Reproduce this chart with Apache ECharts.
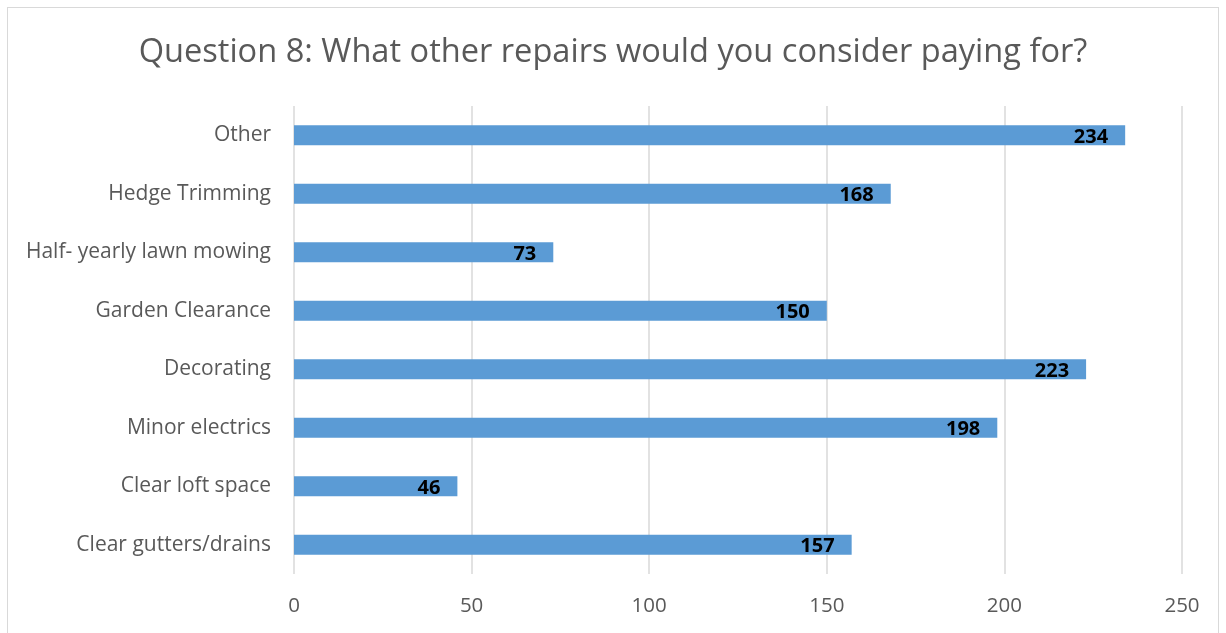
<!DOCTYPE html>
<html>
<head>
<meta charset="utf-8">
<script src="https://cdn.jsdelivr.net/npm/echarts@6/dist/echarts.min.js"></script>
<style>
  html, body { margin: 0; padding: 0; background: #ffffff; }
  #frame { position: absolute; left: 7px; top: 7px; width: 1212px; height: 640px; border: 1.5px solid #d9d9d9; box-sizing: border-box; }
  #chart { position: absolute; left: 0; top: 0; width: 1226px; height: 633px; }
</style>
</head>
<body>
<div id="frame"></div>
<div id="chart"></div>
<script>
// Survey answers, listed bottom-to-top as they appear on the category axis
const categories = [
  'Clear gutters/drains',
  'Clear loft space',
  'Minor electrics',
  'Decorating',
  'Garden Clearance',
  'Half- yearly lawn mowing',
  'Hedge Trimming',
  'Other'
];
const responses = [157, 46, 198, 223, 150, 73, 168, 234];
const xTicks = [0, 50, 100, 150, 200, 250];

const FONT = '"Open Sans", Lato, sans-serif';
const chart = echarts.init(document.getElementById('chart'), null, { renderer: 'canvas' });

chart.setOption({
  animation: false,
  textStyle: { fontFamily: FONT },
  title: {
    text: 'Question 8: What other repairs would you consider paying for?',
    left: 'center',
    top: 31,
    textStyle: { fontFamily: FONT, fontSize: 32.6, fontWeight: 'normal', color: '#595959' }
  },
  grid: { left: 294, right: 1226 - 1182, top: 106, bottom: 633 - 574, containLabel: false },
  xAxis: {
    type: 'value',
    min: xTicks[0],
    max: xTicks[xTicks.length - 1],
    interval: 50,
    axisLine: { show: false },
    axisTick: { show: false },
    splitLine: { show: true, lineStyle: { color: '#d9d9d9', width: 1.5 } },
    axisLabel: { color: '#595959', fontSize: 20.5, margin: 22, fontFamily: FONT }
  },
  yAxis: {
    type: 'category',
    data: categories,
    axisLine: { show: false },
    axisTick: { show: false },
    axisLabel: { color: '#595959', fontSize: 21, margin: 23, fontFamily: FONT, padding: [5, 0, 0, 0] }
  },
  series: [{
    type: 'bar',
    data: responses,
    barWidth: 20,
    itemStyle: { color: '#5b9bd5' },
    label: {
      show: true,
      position: 'insideRight',
      distance: 17,
      offset: [0, 2],
      color: '#000000',
      fontWeight: 'bold',
      fontSize: 20,
      fontFamily: FONT
    }
  }]
});
</script>
</body>
</html>
